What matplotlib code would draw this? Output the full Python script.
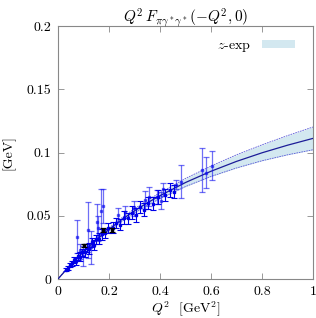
import matplotlib
matplotlib.use('Agg')
import matplotlib.pyplot as plt
import numpy as np

plt.rcParams['font.family'] = 'serif'
plt.rcParams['font.serif'] = ['cmr10']
plt.rcParams['mathtext.fontset'] = 'cm'
plt.rcParams['axes.unicode_minus'] = False
plt.rcParams['axes.formatter.use_mathtext'] = True

# z-expansion fit band
q2_fit = [0, 0.05, 0.1, 0.15, 0.2, 0.25, 0.3, 0.35, 0.4, 0.5, 0.6, 0.7, 0.8, 0.9, 1.0]
fit_mid = [0, 0.0115, 0.0217, 0.0310, 0.0393, 0.0470, 0.0539, 0.0602, 0.0659, 0.0763,
           0.0852, 0.0930, 0.0998, 0.1058, 0.1112]
fit_err = [0, 0.0002, 0.0005, 0.0008, 0.0011, 0.0014, 0.0017, 0.0020, 0.0023, 0.0032,
           0.0041, 0.0052, 0.0063, 0.0076, 0.0090]

# lattice points, precise
pts_x = [0.030, 0.038, 0.046, 0.055, 0.062, 0.070, 0.078, 0.086, 0.094, 0.104, 0.112,
         0.122, 0.132, 0.142, 0.150, 0.162, 0.172, 0.186, 0.198, 0.214, 0.228, 0.244,
         0.258, 0.274, 0.290, 0.306, 0.320, 0.336, 0.352, 0.372, 0.392, 0.418, 0.440,
         0.456]
pts_y = [0.0075, 0.0088, 0.0112, 0.0125, 0.0150, 0.0140, 0.0180, 0.0175, 0.0210, 0.0215,
         0.0245, 0.0240, 0.0290, 0.0270, 0.0315, 0.0320, 0.0352, 0.0360, 0.0400, 0.0405,
         0.0440, 0.0430, 0.0485, 0.0480, 0.0525, 0.0505, 0.0570, 0.0548, 0.0600, 0.0595,
         0.0650, 0.0665, 0.0705, 0.0690]
pts_e = [0.0012, 0.0015, 0.0018, 0.0020, 0.0025, 0.0030, 0.0028, 0.0035, 0.0030, 0.0040,
         0.0035, 0.0045, 0.0035, 0.0040, 0.0035, 0.0045, 0.0040, 0.0035, 0.0040, 0.0045,
         0.0040, 0.0045, 0.0050, 0.0045, 0.0050, 0.0055, 0.0045, 0.0050, 0.0045, 0.0050,
         0.0055, 0.0045, 0.0055, 0.0050]

# lattice points, noisy
wide_x = [0.073, 0.085, 0.100, 0.119, 0.130, 0.152, 0.158, 0.169, 0.178, 0.236, 0.262,
          0.300, 0.340, 0.358, 0.387, 0.403, 0.413, 0.463, 0.481, 0.563, 0.580, 0.603]
wide_y = [0.0336, 0.0220, 0.0180, 0.0390, 0.0250, 0.0450, 0.0400, 0.0535, 0.0580, 0.0505,
          0.0530, 0.0560, 0.0625, 0.0652, 0.0652, 0.0620, 0.0708, 0.0745, 0.0770, 0.0860,
          0.0842, 0.0894]
wide_e = [0.0130, 0.0060, 0.0080, 0.0220, 0.0130, 0.0140, 0.0100, 0.0180, 0.0135, 0.0055,
          0.0050, 0.0060, 0.0073, 0.0072, 0.0055, 0.0066, 0.0050, 0.0035, 0.0130, 0.0175,
          0.0120, 0.0115]

# black points
blk_x = [0.103, 0.178, 0.210]
blk_y = [0.0265, 0.0390, 0.0385]
blk_e = [0.0012, 0.0015, 0.0015]

fig = plt.figure(figsize=(3.16, 3.18), dpi=100)
ax = fig.add_axes([0.1835, 0.1226, 0.807, 0.7954])

ax.fill_between(q2_fit, np.subtract(fit_mid, fit_err), np.add(fit_mid, fit_err),
                color='#d3e8f0', lw=0, label='$z$-exp', zorder=1)
ax.plot(q2_fit, np.subtract(fit_mid, fit_err), color='#5a5ad8', lw=0.6, ls=(0, (2, 1)), zorder=2)
ax.plot(q2_fit, np.add(fit_mid, fit_err), color='#5a5ad8', lw=0.6, ls=(0, (2, 1)), zorder=2)
ax.plot(q2_fit, fit_mid, color='#1c1c98', lw=0.9, zorder=3)

ax.errorbar(wide_x, wide_y, yerr=wide_e, fmt='s', ms=1.5, color='#1010f0', alpha=0.6,
            elinewidth=0.9, capsize=2.5, capthick=0.9, zorder=4)
ax.errorbar(pts_x, pts_y, yerr=pts_e, fmt='s', ms=1.5, color='#0000e8',
            elinewidth=0.8, capsize=2.0, capthick=0.8, zorder=5)
ax.errorbar(blk_x, blk_y, yerr=blk_e, fmt='s', ms=1.5, color='black',
            elinewidth=0.9, capsize=2.2, capthick=0.9, zorder=6)

ax.set_xlim(0, 1)
ax.set_ylim(0, 0.2)
ax.set_xticks([0, 0.2, 0.4, 0.6, 0.8, 1])
ax.set_xticklabels(['0', '0.2', '0.4', '0.6', '0.8', '1'])
ax.set_yticks([0, 0.05, 0.1, 0.15, 0.2])
ax.set_yticklabels(['0', '0.05', '0.1', '0.15', '0.2'])
ax.tick_params(direction='in', top=True, right=True, length=4, width=0.6,
               color='#888888', labelsize=10, pad=5)
for s in ax.spines.values():
    s.set_color('#888888')
    s.set_linewidth(0.8)

ax.set_title(r'$Q^2\,F_{\pi\gamma^*\gamma^*}(-Q^2,0)$', fontsize=11, pad=3)
ax.set_xlabel(r'$Q^2$  [GeV$^2$]', fontsize=10, labelpad=1)
ax.set_ylabel('[GeV]', fontsize=10, labelpad=8)

ax.legend(loc='upper right', frameon=False, markerfirst=False, fontsize=10,
          handlelength=2.4, handleheight=0.5, borderaxespad=0.6, bbox_to_anchor=(0.985, 1.0))

plt.savefig('out.png', dpi=100)
